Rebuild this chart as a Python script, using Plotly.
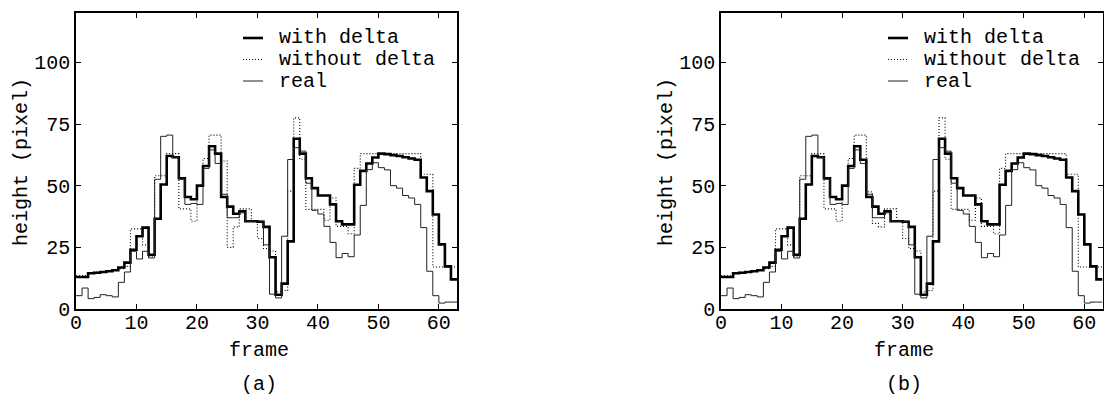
import plotly.graph_objects as go

frames = list(range(63))

with_delta_b = [13, 13, 14.5, 14.7, 15, 15.3, 15.7, 16.8, 18.8, 24,
                29.5, 33, 22, 36.6, 50.5, 62, 61.5, 53, 45.4, 44.5,
                50, 58, 66, 60.5, 45.4, 41.5, 38.6, 39.6, 35.6, 35.6,
                35.4, 33.3, 21, 5.8, 10.3, 27.4, 69, 63, 53, 49,
                46, 46, 42.4, 35.6, 34.3, 34.3, 50.4, 56, 59, 61.4,
                63, 62.8, 62.4, 62, 61.5, 61, 60.5, 53.3, 47.8, 38.3,
                26.2, 17.3, 12]
without_delta_b = [13.5, 13.5, 14.8, 15, 15.2, 15.5, 15.7, 16.3, 17.3, 32.5,
                   32.5, 26, 21.4, 54, 54, 63, 63, 40.6, 40.6, 35.6,
                   50, 61, 70.5, 70.5, 47.5, 34.7, 33.3, 40.6, 40.6, 35.5,
                   28.6, 24.5, 23.5, 7, 7.5, 47.8, 77.5, 60.7, 40.4, 40.4,
                   40.4, 36, 45, 33.5, 33.5, 30.5, 57, 63, 63, 63,
                   63, 63, 63, 63, 63, 63, 63, 54.6, 54.6, 17,
                   17, 17, 17]
real_b = [5.4, 8.5, 4.2, 4.7, 5.8, 5.4, 4.9, 10.8, 15, 23.4,
          20.3, 23.4, 20.7, 52.6, 70, 70.5, 61.5, 52.6, 42.4, 42.8,
          42.4, 57, 64.5, 59, 46.5, 37, 37, 39, 35.6, 35.6,
          35.6, 26, 6, 4.5, 29.5, 60.6, 65.4, 64, 51, 40,
          38.5, 33.5, 27, 20.8, 22.5, 21.2, 30, 42, 56.5, 59.3,
          57.3, 56.4, 50, 49, 46, 45, 42.4, 33, 15.3, 5.4,
          2.4, 2.8, 2.8]

with_delta_a = [13, 13, 14.5, 14.7, 15, 15.3, 15.7, 16.8, 18.8, 24,
                29.5, 33, 22, 36.6, 50.5, 62, 61.5, 53, 45.4, 44.5,
                50, 58, 66, 63, 45.4, 41.5, 38.6, 39.6, 35.6, 35.6,
                35.4, 33.3, 21, 5.8, 10.3, 27.4, 69, 63, 53, 49,
                46, 46, 42.4, 35.6, 34.3, 34.3, 50.4, 56, 59, 61.4,
                63, 62.8, 62.4, 62, 61.5, 61, 60.5, 53.3, 47.8, 38.3,
                26.2, 17.3, 12]
without_delta_a = [13.5, 13.5, 14.8, 15, 15.2, 15.5, 15.7, 16.3, 17.3, 32.5,
                   32.5, 26, 21.4, 54, 54, 63, 63, 40.6, 40.6, 35.6,
                   50, 61, 70.5, 70.5, 60, 25, 33.3, 40.6, 40.6, 35.5,
                   28.6, 24.5, 23.5, 7, 7.5, 47.8, 77.5, 60.7, 40.4, 40.4,
                   40.4, 36, 45, 33.5, 33.5, 30.5, 57, 63, 63, 63,
                   63, 63, 63, 63, 63, 63, 63, 54.6, 54.6, 17,
                   17, 17, 17]
real_a = list(real_b)

series_names = ["with delta", "without delta", "real"]
x_ticks = [0, 10, 20, 30, 40, 50, 60]
y_ticks = [0, 25, 50, 75, 100]
panel_labels = ["(a)", "(b)"]

FONT = "Liberation Mono"
W, H = 1104, 395


def step(vals):
    xs = frames + [len(frames)]
    ys = list(vals) + [vals[-1]]
    return xs, ys


styles = [
    dict(color="black", width=2.6),
    dict(color="black", width=1.1, dash="1px,2px"),
    dict(color="#222222", width=1.0),
]

fig = go.Figure()
panels = [
    ("x", "y", [with_delta_a, without_delta_a, real_a]),
    ("x2", "y2", [with_delta_b, without_delta_b, real_b]),
]
for xa, ya, data in panels:
    for name, vals, st in zip(series_names, data, styles):
        xs, ys = step(vals)
        fig.add_trace(go.Scatter(x=xs, y=ys, mode="lines", line_shape="hv",
                                 line=st, name=name, xaxis=xa, yaxis=ya,
                                 showlegend=False))

axis_common = dict(showline=True, linewidth=1.5, linecolor="black", mirror="allticks",
                   ticks="inside", ticklen=5, tickwidth=1, tickcolor="black",
                   showgrid=False, zeroline=False, automargin=False,
                   tickfont=dict(family=FONT, size=20, color="black"))

ydom = [1 - 309 / H, 1 - 13 / H]
fig.update_layout(
    width=W, height=H, margin=dict(l=0, r=0, t=0, b=0, autoexpand=False),
    paper_bgcolor="white", plot_bgcolor="white",
    xaxis=dict(domain=[76 / W, 457 / W], range=[0, 63], tickvals=x_ticks, anchor="y",
               ticklabelstandoff=-6, **axis_common),
    yaxis=dict(domain=ydom, range=[0, 120], tickvals=y_ticks, anchor="x", **axis_common),
    xaxis2=dict(domain=[721 / W, 1102.5 / W], range=[0, 63], tickvals=x_ticks, anchor="y2",
                ticklabelstandoff=-6, **axis_common),
    yaxis2=dict(domain=ydom, range=[0, 120], tickvals=y_ticks, anchor="x2", **axis_common),
)

shapes = []
annotations = []
for i, x0 in enumerate([76, 721]):
    rows = [38, 59.5, 81]
    for name, st, ry in zip(series_names, styles, rows):
        shapes.append(dict(type="line", xref="paper", yref="paper",
                           x0=(x0 + 167) / W, x1=(x0 + 187) / W,
                           y0=1 - ry / H, y1=1 - ry / H, line=st))
        annotations.append(dict(text=name, xref="paper", yref="paper",
                                x=(x0 + 201) / W, y=1 - ry / H, xanchor="left", yanchor="middle",
                                showarrow=False, font=dict(family=FONT, size=20, color="black")))
    annotations.append(dict(text="frame", xref="paper", yref="paper",
                            x=(x0 + 183) / W, y=1 - 350 / H, xanchor="center", yanchor="middle",
                            showarrow=False, font=dict(family=FONT, size=20, color="black")))
    annotations.append(dict(text=panel_labels[i], xref="paper", yref="paper",
                            x=(x0 + 183) / W, y=1 - 384 / H, xanchor="center", yanchor="middle",
                            showarrow=False, font=dict(family=FONT, size=20, color="black")))
    annotations.append(dict(text="height (pixel)", xref="paper", yref="paper",
                            x=(x0 - 55) / W, y=1 - 162 / H, xanchor="center", yanchor="middle",
                            textangle=-90, showarrow=False,
                            font=dict(family=FONT, size=20, color="black")))

fig.update_layout(shapes=shapes, annotations=annotations)
fig.write_html("out.html")
